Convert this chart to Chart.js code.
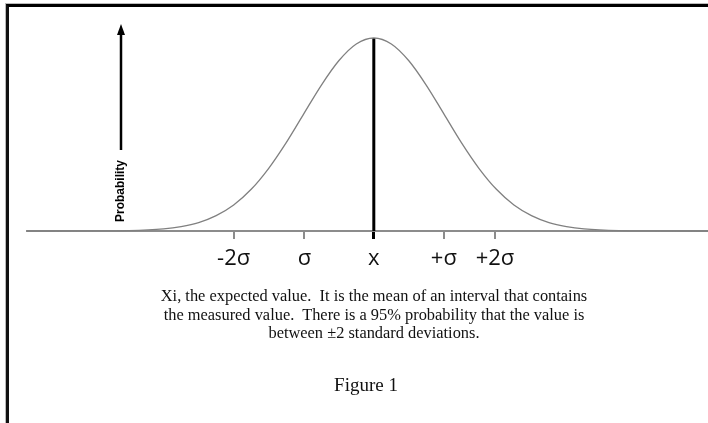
<!DOCTYPE html>
<html>
<head>
<meta charset="utf-8">
<script src="https://cdn.jsdelivr.net/npm/chart.js@4"></script>
<style>
  html, body { margin: 0; padding: 0; background: #fff; }
  #wrap { position: relative; width: 708px; height: 423px; overflow: hidden; }
  #frame {
    position: absolute; left: 6px; top: 4px; right: -10px; bottom: -10px;
    border-top: 3px solid #000; border-left: 3px solid #111;
    box-shadow: -1px -1px 0 #bbb;
  }
  canvas { position: absolute; left: 0; top: 0; }
  .caption {
    position: absolute; left: 0; width: 748px; text-align: center;
    font-family: "Liberation Serif", "Times New Roman", serif;
    color: #111; white-space: pre;
  }
  #note { top: 287px; font-size: 16.4px; line-height: 18.6px; }
  #fig { top: 374px; font-size: 19px; width: 732px; }
</style>
</head>
<body>
<div id="wrap">
  <div id="frame"></div>
  <canvas id="bellChart" width="708" height="423"></canvas>
  <div class="caption" id="note">Xi, the expected value.  It is the mean of an interval that contains
the measured value.  There is a 95% probability that the value is
between ±2 standard deviations.</div>
  <div class="caption" id="fig">Figure 1</div>
</div>
<script>
// curve in standard deviations from the mean, height relative to the peak
var curveX = [-4.95, -4.0, -3.5, -3.0, -2.75, -2.5, -2.25, -2.0, -1.75, -1.5, -1.25, -1.0, -0.75, -0.5, -0.25, 0,
              0.25, 0.5, 0.75, 1.0, 1.25, 1.5, 1.75, 2.0, 2.25, 2.5, 2.75, 3.0, 3.5, 4.0, 4.77];
var curveY = [0, 0.0005, 0.002, 0.011, 0.023, 0.044, 0.080, 0.135, 0.216, 0.325, 0.458, 0.607, 0.755, 0.882, 0.969, 1.0,
              0.969, 0.882, 0.755, 0.607, 0.458, 0.325, 0.216, 0.135, 0.080, 0.044, 0.023, 0.011, 0.002, 0.0005, 0];

// the expected value marker
var meanX = [0, 0];
var meanY = [0, 1.0];

// axis ticks and their labels
var tickValues = [-2.0, -0.99, 0, 1.0, 1.73];
var tickLabels = ["-2σ", "σ", "x", "+σ", "+2σ"];

function toPoints(xs, ys) {
    return xs.map(function (x, i) { return { x: x, y: ys[i] }; });
}

// arrow and rotated "Probability" label on the left
var probabilityArrow = {
    id: "probabilityArrow",
    afterDraw: function (chart) {
        var ctx = chart.ctx;
        var x = 121;
        ctx.save();
        ctx.strokeStyle = "#000";
        ctx.fillStyle = "#000";
        ctx.lineWidth = 2.5;
        ctx.beginPath();
        ctx.moveTo(x, 150);
        ctx.lineTo(x, 32);
        ctx.stroke();
        ctx.beginPath();
        ctx.moveTo(x, 24);
        ctx.lineTo(x - 4, 35);
        ctx.lineTo(x + 4, 35);
        ctx.closePath();
        ctx.fill();
        ctx.translate(x, 191);
        ctx.rotate(-Math.PI / 2);
        ctx.font = "bold 12px 'Liberation Sans', Arial, sans-serif";
        ctx.textAlign = "center";
        ctx.textBaseline = "middle";
        ctx.fillText("Probability", 0, 0);
        ctx.restore();
    }
};

var ctx = document.getElementById("bellChart").getContext("2d");
var bellChart = new Chart(ctx, {
    type: "scatter",
    data: {
        datasets: [
            {
                data: toPoints(curveX, curveY),
                showLine: true,
                borderColor: "#808080",
                borderWidth: 1.3,
                pointRadius: 0,
                cubicInterpolationMode: "monotone",
                clip: false,
            },
            {
                data: toPoints(meanX, meanY),
                showLine: true,
                borderColor: "#000",
                borderWidth: 3,
                pointRadius: 0,
                clip: false,
            },
        ],
    },
    options: {
        responsive: false,
        animation: false,
        events: [],
        layout: { padding: { left: 27, right: 0, top: 38, bottom: 152 } },
        plugins: {
            legend: { display: false },
            tooltip: { enabled: false },
        },
        scales: {
            x: {
                type: "linear",
                min: -4.95,
                max: 4.77,
                afterBuildTicks: function (scale) {
                    scale.ticks = tickValues.map(function (v) { return { value: v }; });
                },
                afterFit: function (scale) { scale.height = 40; },
                border: { display: true, color: "#8c8c8c", width: 2 },
                grid: {
                    drawOnChartArea: false,
                    drawTicks: true,
                    tickLength: 8,
                    color: function (c) { return c.tick && c.tick.value === 0 ? "#000" : "#8c8c8c"; },
                    lineWidth: function (c) { return c.tick && c.tick.value === 0 ? 3 : 2; },
                },
                ticks: {
                    autoSkip: false,
                    maxRotation: 0,
                    padding: 7,
                    color: "#111",
                    font: { family: "'Open Sans', 'DejaVu Sans', sans-serif", size: 22 },
                    callback: function (value, index) { return tickLabels[index]; },
                },
            },
            y: {
                display: false,
                min: 0,
                max: 1.0,
            },
        },
    },
    plugins: [probabilityArrow],
});
</script>
</body>
</html>
